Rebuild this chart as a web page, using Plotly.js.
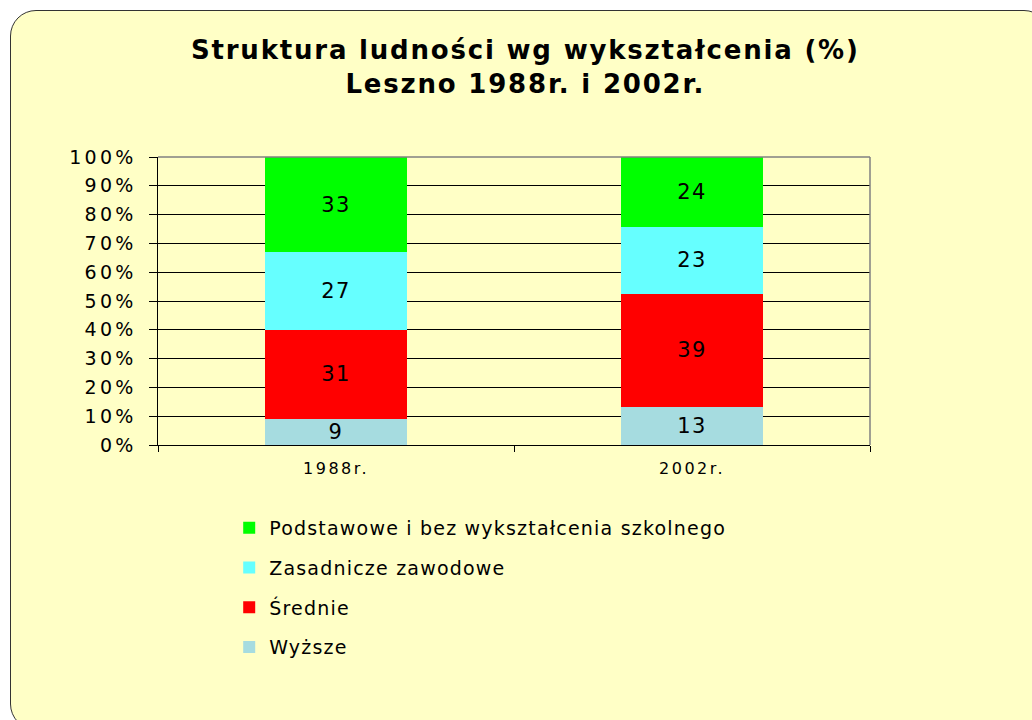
<!DOCTYPE html>
<html><head><meta charset="utf-8">
<script src="https://cdn.plot.ly/plotly-3.0.1.min.js"></script>
<style>
html,body{margin:0;padding:0;background:#fff;width:1032px;height:720px;overflow:hidden;}
#frame{position:absolute;left:10px;top:10px;width:1040px;height:720px;background:#FFFFC6;border:1.5px solid #333;border-radius:26px;box-sizing:border-box;}
#chart{position:absolute;left:0;top:0;width:1032px;height:720px;}
.gtitle{letter-spacing:1.8px;}
.legendtext{letter-spacing:1.2px;}
.ytick text, text.ytick{letter-spacing:3.3px;}
.xtick text, text.xtick{letter-spacing:2.5px;}
.bartext{letter-spacing:1.5px;}
</style></head>
<body>
<div id="frame"></div>
<div id="chart"></div>
<script>
const categories = ['1988r.', '2002r.'];
const seriesNames = ['Wyższe', 'Średnie', 'Zasadnicze zawodowe', 'Podstawowe i bez wykształcenia szkolnego'];
const wyzsze = [9, 13];
const srednie = [31, 39];
const zasadnicze = [27, 23];
const podstawowe = [33, 24];
const colors = ['#A6DCE0', '#FF0000', '#66FFFF', '#00FF00'];
const yTickVals = [0, 10, 20, 30, 40, 50, 60, 70, 80, 90, 100];
const yTickText = ['0%', '10%', '20%', '30%', '40%', '50%', '60%', '70%', '80%', '90%', '100%'];

const FONT = 'DejaVu Sans, Verdana, sans-serif';
const values = [wyzsze, srednie, zasadnicze, podstawowe];
const traces = values.map((v, i) => ({
  type: 'bar',
  x: categories,
  y: v,
  name: seriesNames[i],
  legendgroup: 'g' + i,
  legendrank: 4 - i,
  marker: {color: colors[i], line: {width: 0}},
  text: v.map(String),
  textposition: 'inside',
  insidetextanchor: 'middle',
  constraintext: 'none',
  textangle: 0,
  textfont: {family: FONT, size: 21, color: '#000'},
  hoverinfo: 'skip'
}));

const layout = {
  width: 1032, height: 720,
  paper_bgcolor: 'rgba(0,0,0,0)',
  plot_bgcolor: 'rgba(0,0,0,0)',
  barmode: 'stack',
  barnorm: 'percent',
  bargap: 0.6,
  margin: {l: 158, r: 162, t: 157, b: 275},
  font: {family: FONT, color: '#000'},
  title: {
    text: '<b>Struktura ludności wg wykształcenia (%)<br>Leszno 1988r. i 2002r.</b>',
    font: {size: 26, color: '#000'},
    x: 0.509, xref: 'container', xanchor: 'center',
    y: 0.918, yref: 'container', yanchor: 'middle'
  },
  xaxis: {
    type: 'category',
    tickson: 'boundaries',
    ticks: 'outside', ticklen: 6, tickcolor: '#000', tickwidth: 1,
    showline: true, linecolor: '#000', linewidth: 1,
    showgrid: false,
    tickfont: {size: 16},
    ticklabelstandoff: 9,
    fixedrange: true
  },
  yaxis: {
    range: [0, 100],
    tickvals: yTickVals, ticktext: yTickText,
    ticks: 'outside', ticklen: 8, tickcolor: '#000', tickwidth: 1,
    showline: true, linecolor: '#000', linewidth: 1.5,
    showgrid: true, gridcolor: '#000', gridwidth: 1,
    tickfont: {size: 19},
    ticklabelstandoff: 8,
    zeroline: false,
    fixedrange: true
  },
  shapes: [
    {type: 'line', xref: 'paper', yref: 'paper', x0: 0, x1: 1, y0: 1, y1: 1, line: {color: '#808080', width: 1.5}},
    {type: 'line', xref: 'paper', yref: 'paper', x0: 1, x1: 1, y0: 0, y1: 1, line: {color: '#808080', width: 1.5}}
  ],
  legend: {
    x: 0.1, xanchor: 'left', xref: 'paper',
    y: -0.222, yanchor: 'top', yref: 'paper',
    orientation: 'v',
    traceorder: 'grouped',
    bgcolor: 'rgba(0,0,0,0)',
    font: {size: 19, color: '#000'},
    tracegroupgap: 12,
    itemwidth: 30
  },
  showlegend: true
};

Plotly.newPlot('chart', traces, layout, {displayModeBar: false, staticPlot: true});
</script>
</body></html>
